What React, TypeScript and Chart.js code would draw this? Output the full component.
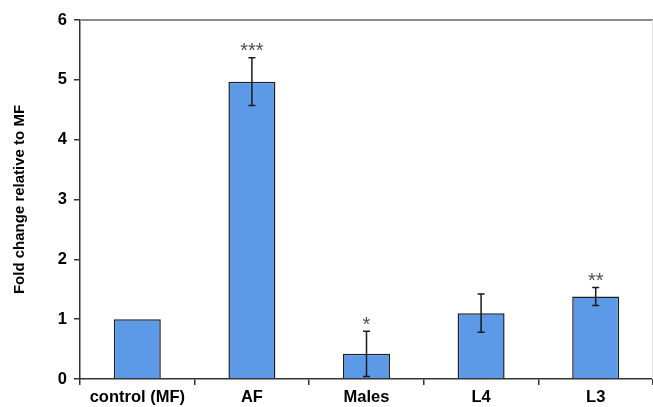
import React, { useEffect, useRef } from "react";
import { Chart, registerables } from "chart.js";

Chart.register(...registerables);

const categories = ["control (MF)", "AF", "Males", "L4", "L3"];
const foldChange = [1.0, 4.97, 0.42, 1.1, 1.38];
const errors = [0, 0.4, 0.38, 0.32, 0.15];
const significance = ["", "***", "*", "", "**"];
const yTicks = [0, 1, 2, 3, 4, 5, 6];

const FONT = "'Liberation Sans', Arial, sans-serif";

const errorBarPlugin = {
  id: "errorBars",
  afterDatasetsDraw(chart: any) {
    const { ctx, chartArea } = chart;
    const meta = chart.getDatasetMeta(0);
    const yScale = chart.scales.y;
    ctx.save();
    // top frame line
    ctx.strokeStyle = "#8a8a8a";
    ctx.lineWidth = 2;
    ctx.beginPath();
    ctx.moveTo(chartArea.left, chartArea.top);
    ctx.lineTo(chartArea.right, chartArea.top);
    ctx.stroke();
    ctx.strokeStyle = "#e0e0e0";
    ctx.lineWidth = 1;
    ctx.beginPath();
    ctx.moveTo(chartArea.right - 0.5, chartArea.top);
    ctx.lineTo(chartArea.right - 0.5, chartArea.bottom);
    ctx.stroke();

    meta.data.forEach((bar: any, i: number) => {
      const v = foldChange[i];
      const e = errors[i];
      const x = bar.x;
      const yTop = yScale.getPixelForValue(v + e);
      if (e > 0) {
        const yBot = yScale.getPixelForValue(v - e);
        ctx.strokeStyle = "#1a1a1a";
        ctx.lineWidth = 1.5;
        ctx.beginPath();
        ctx.moveTo(x, yTop);
        ctx.lineTo(x, yBot);
        ctx.moveTo(x - 3.5, yTop);
        ctx.lineTo(x + 3.5, yTop);
        ctx.moveTo(x - 3.5, yBot);
        ctx.lineTo(x + 3.5, yBot);
        ctx.stroke();
      }
      const s = significance[i];
      if (s) {
        ctx.fillStyle = "#505050";
        ctx.font = `20px ${FONT}`;
        ctx.textAlign = "center";
        ctx.textBaseline = "alphabetic";
        ctx.fillText(s, x, yTop - 0.5);
      }
    });
    ctx.restore();
  },
};

export default function App() {
  const ref = useRef<HTMLCanvasElement | null>(null);
  useEffect(() => {
    document.body.style.margin = "0";
    const canvas = ref.current;
    if (!canvas) return;
    const chart = new Chart(canvas, {
      type: "bar",
      data: {
        labels: categories,
        datasets: [
          {
            data: foldChange,
            backgroundColor: "#5c9ae8",
            borderColor: "#1f1f1f",
            borderWidth: 1.5,
            categoryPercentage: 1,
            barPercentage: 0.41,
          },
        ],
      },
      options: {
        animation: false,
        responsive: false,
        maintainAspectRatio: false,
        devicePixelRatio: 1,
        layout: { padding: { top: 20, right: 0, left: 0, bottom: 0 } },
        plugins: { legend: { display: false }, tooltip: { enabled: false } },
        scales: {
          x: {
            offset: true,
            grid: {
              offset: true,
              drawOnChartArea: false,
              drawTicks: true,
              tickLength: 6,
              color: "#333",
              lineWidth: 1.5,
            },
            border: { color: "#333", width: 1.5 },
            ticks: {
              color: "#000",
              padding: 3,
              font: { family: FONT, size: 16.5, weight: "bold" },
            },
            afterFit(scale: any) {
              scale.height = 28;
            },
          },
          y: {
            min: 0,
            max: 6,
            afterBuildTicks(scale: any) {
              scale.ticks = yTicks.map((v) => ({ value: v }));
            },
            grid: {
              drawOnChartArea: false,
              drawTicks: true,
              tickLength: 6,
              color: "#333",
              lineWidth: 1.5,
            },
            border: { color: "#333", width: 1.5 },
            ticks: {
              color: "#000",
              padding: 7,
              font: { family: FONT, size: 16.5, weight: "bold" },
            },
            title: {
              display: true,
              text: "Fold change relative to MF",
              color: "#000",
              padding: { top: 11, bottom: 0 },
              font: { family: FONT, size: 15, weight: "bold" },
            },
            afterFit(scale: any) {
              scale.width = 80;
            },
          },
        },
      },
      plugins: [errorBarPlugin],
    });
    return () => chart.destroy();
  }, []);
  return (
    <div style={{ position: "relative", width: 653, height: 407, background: "#fff" }}>
      <canvas ref={ref} width={653} height={407} style={{ width: 653, height: 407 }} />
    </div>
  );
}
